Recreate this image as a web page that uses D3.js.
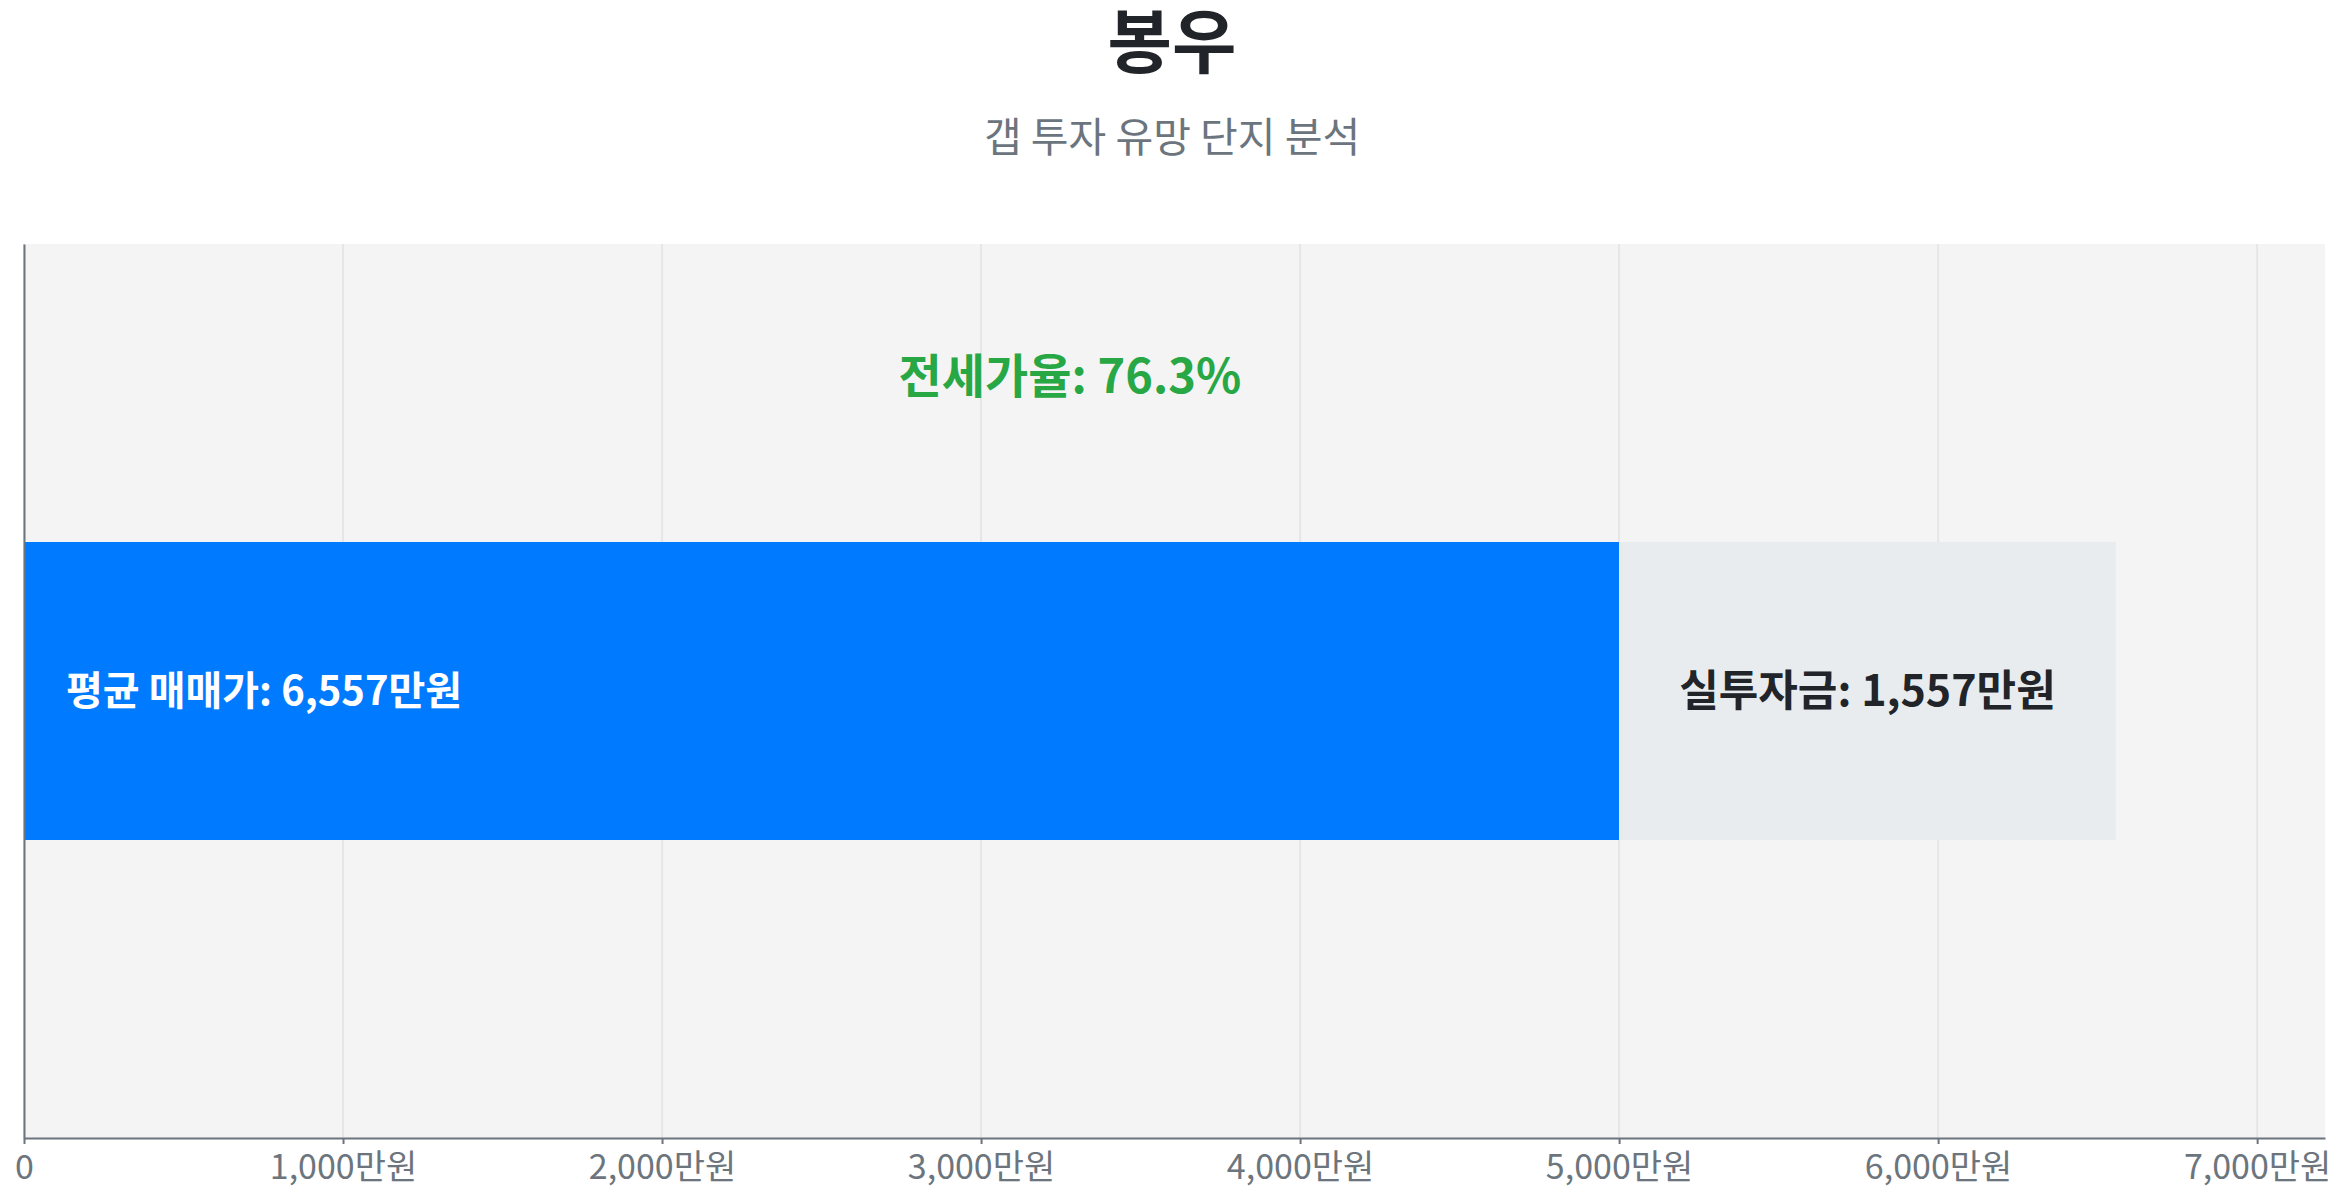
<!DOCTYPE html>
<html>
<head>
<meta charset="utf-8">
<script src="https://cdn.jsdelivr.net/npm/d3@7"></script>
<style>
  body { margin: 0; background: #fff; font-family: "Noto Sans CJK KR", "Noto Sans", sans-serif; }
</style>
</head>
<body>
<div id="chart"></div>
<script>
// data
const complexName = "봉우";
const subtitle = "갭 투자 유망 단지 분석";
const categories = ["봉우"];
const avgPrice = [6557];     // 평균 매매가 (만원)
const jeonsePrice = [5000];  // 전세가 (만원)
const gapAmount = [1557];    // 실투자금 (만원)
const jeonseRate = [76.3];   // %
const tickValues = [0, 1000, 2000, 3000, 4000, 5000, 6000, 7000];

var W = 2344, H = 1200;
var margin = { top: 244, right: 19, bottom: 62, left: 24 },
    width = W - margin.left - margin.right,
    height = H - margin.top - margin.bottom;

var root = d3.select("#chart").append("svg")
    .attr("width", W)
    .attr("height", H);

root.append("text")
    .attr("x", W / 2)
    .attr("y", 68)
    .attr("text-anchor", "middle")
    .style("font-size", "70px")
    .style("font-weight", "700")
    .style("fill", "#212529")
    .text(complexName);

root.append("text")
    .attr("x", W / 2)
    .attr("y", 152)
    .attr("text-anchor", "middle")
    .style("font-size", "41px")
    .style("font-weight", "400")
    .style("fill", "#6c757d")
    .text(subtitle);

var svg = root.append("g")
    .attr("transform", "translate(" + margin.left + "," + margin.top + ")");

svg.append("rect")
    .attr("width", width)
    .attr("height", height)
    .attr("fill", "#f4f4f4");

var x = d3.scaleLinear()
    .domain([0, d3.max(avgPrice) * 1.1])
    .range([0, width]);

var y = d3.scaleBand()
    .domain(categories)
    .range([0, height])
    .padding(0.5);

// vertical grid
svg.append("g")
    .selectAll("line")
    .data(tickValues)
    .enter()
    .append("line")
    .attr("x1", d => x(d))
    .attr("x2", d => x(d))
    .attr("y1", 0)
    .attr("y2", height)
    .attr("stroke", "#e6e6e6")
    .attr("stroke-width", 2);

// 전세가 part
svg.selectAll(".jeonse")
    .data(categories)
    .enter()
    .append("rect")
    .attr("class", "jeonse")
    .attr("x", x(0))
    .attr("y", d => y(d))
    .attr("width", (d, i) => x(jeonsePrice[i]) - x(0))
    .attr("height", y.bandwidth())
    .attr("fill", "#007bff");

// 실투자금 part
svg.selectAll(".gap")
    .data(categories)
    .enter()
    .append("rect")
    .attr("class", "gap")
    .attr("x", (d, i) => x(jeonsePrice[i]))
    .attr("y", d => y(d))
    .attr("width", (d, i) => x(jeonsePrice[i] + gapAmount[i]) - x(jeonsePrice[i]))
    .attr("height", y.bandwidth())
    .attr("fill", "#e9ecef");

var fmt = d3.format(",");

svg.selectAll(".priceLabel")
    .data(categories)
    .enter()
    .append("text")
    .attr("x", x(0) + 42)
    .attr("y", d => y(d) + y.bandwidth() / 2)
    .attr("dy", "0.35em")
    .style("font-size", "40px")
    .style("font-weight", "700")
    .style("fill", "#fff")
    .text((d, i) => "평균 매매가: " + fmt(avgPrice[i]) + "만원");

svg.selectAll(".gapLabel")
    .data(categories)
    .enter()
    .append("text")
    .attr("x", (d, i) => x(jeonsePrice[i] + gapAmount[i] / 2))
    .attr("y", d => y(d) + y.bandwidth() / 2)
    .attr("dy", "0.35em")
    .attr("text-anchor", "middle")
    .style("font-size", "43px")
    .style("font-weight", "700")
    .style("fill", "#212529")
    .text((d, i) => "실투자금: " + fmt(gapAmount[i]) + "만원");

svg.selectAll(".rateLabel")
    .data(categories)
    .enter()
    .append("text")
    .attr("x", (d, i) => x(avgPrice[i] / 2))
    .attr("y", d => y(d) / 2)
    .attr("text-anchor", "middle")
    .style("font-size", "47px")
    .style("font-weight", "700")
    .style("fill", "#28a745")
    .text((d, i) => "전세가율: " + jeonseRate[i] + "%");

// axes
var xAxis = svg.append("g")
    .attr("transform", "translate(0," + height + ")")
    .call(d3.axisBottom(x)
        .tickValues(tickValues)
        .tickSize(6)
        .tickSizeOuter(0)
        .tickPadding(11)
        .tickFormat(d => d === 0 ? "0" : fmt(d) + "만원"));
xAxis.selectAll("text")
    .style("font-size", "34px")
    .style("font-family", "'Noto Sans CJK KR', sans-serif")
    .style("fill", "#6c757d");
xAxis.selectAll("line").attr("stroke", "#6c757d").attr("stroke-width", 2);
xAxis.select(".domain").attr("stroke", "#6c757d").attr("stroke-width", 2);

var yAxis = svg.append("g")
    .call(d3.axisLeft(y).tickSize(0).tickSizeOuter(0).tickFormat(""));
yAxis.select(".domain").attr("stroke", "#6c757d").attr("stroke-width", 2);
</script>
</body>
</html>
